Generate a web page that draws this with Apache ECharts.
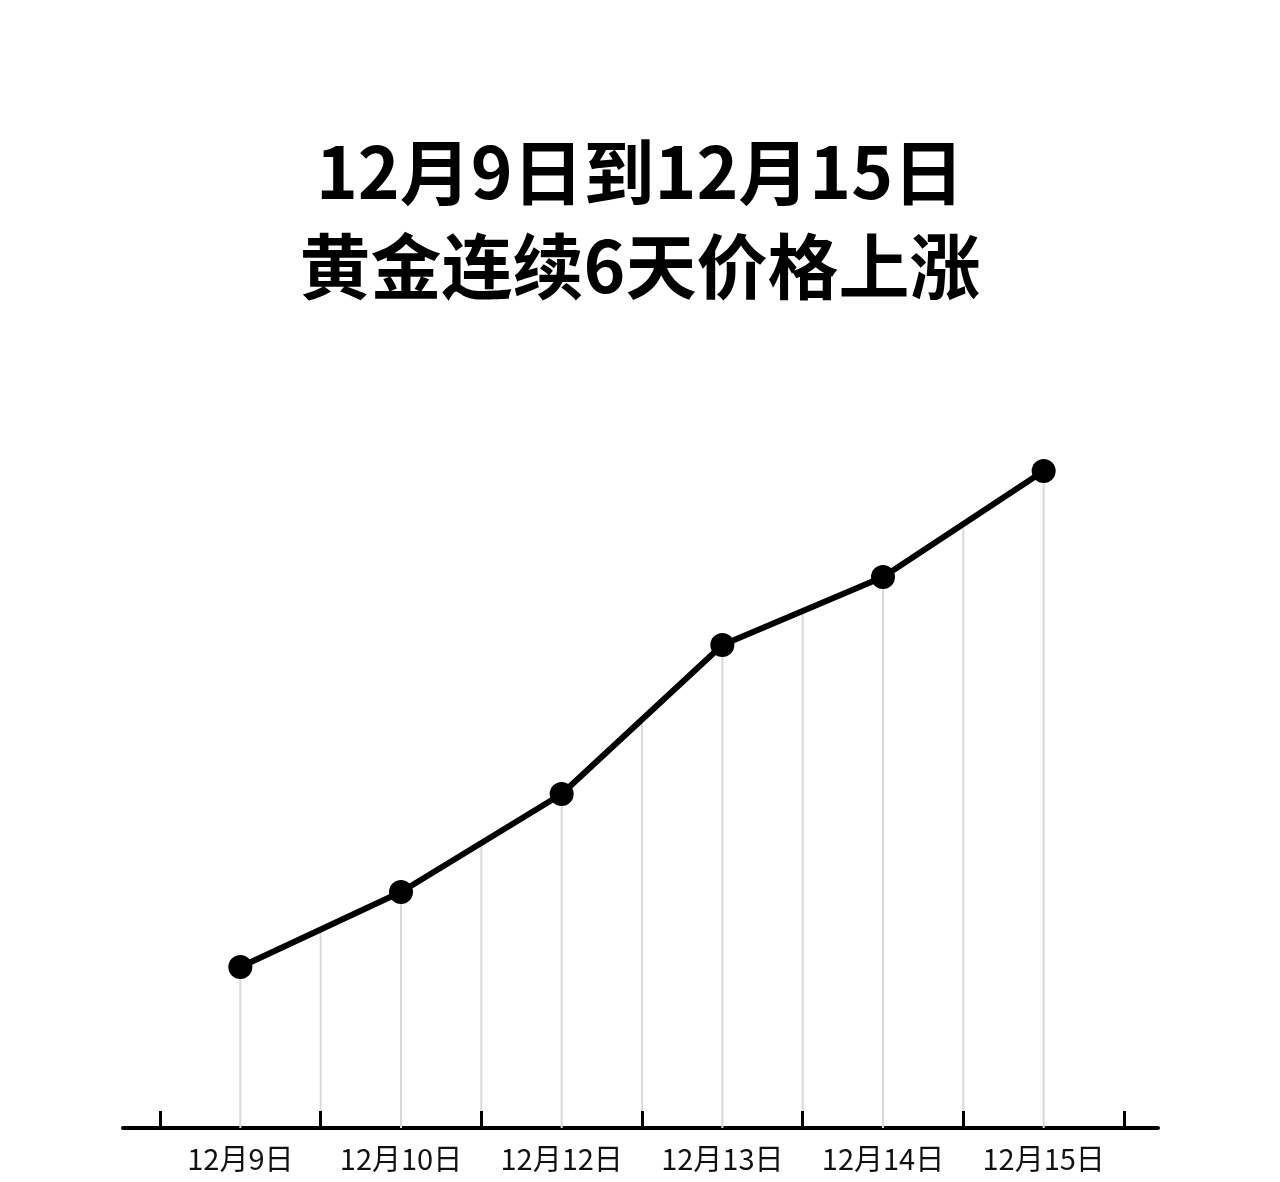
<!DOCTYPE html>
<html>
<head>
<meta charset="utf-8">
<script src="https://cdn.jsdelivr.net/npm/echarts@6/dist/echarts.min.js"></script>
<style>
html,body{margin:0;padding:0;background:#fff;}
#chart{width:1280px;height:1182px;}
</style>
</head>
<body>
<div id="chart"></div>
<script>
const titleLines = ['12月9日到12月15日', '黄金连续6天价格上涨'];
const categories = ['12月9日', '12月10日', '12月12日', '12月13日', '12月14日', '12月15日'];
const prices = [161, 236, 334, 483, 551, 657];

const chart = echarts.init(document.getElementById('chart'));
const font = 'Noto Sans CJK SC';

const titleStyle = {
  fontFamily: font,
  fontSize: 71,
  fontWeight: 'bold',
  color: '#000',
  lineHeight: 72
};

chart.setOption({
  backgroundColor: '#ffffff',
  animation: false,
  title: [
    { text: titleLines[0], left: 'center', top: 136, padding: 0, textStyle: titleStyle },
    { text: titleLines[1], left: 'center', top: 230, padding: 0, textStyle: titleStyle }
  ],
  grid: [
    { left: 160, right: 156, top: 128, bottom: 54 },
    { left: 123, right: 122, top: 128, bottom: 54 }
  ],
  xAxis: [
    {
      type: 'category',
      gridIndex: 0,
      z: 3,
      data: categories,
      boundaryGap: true,
      axisLine: { show: false },
      axisTick: { show: true, interval: 0, inside: true, length: 17, lineStyle: { color: '#000', width: 3 } },
      axisLabel: { interval: 0, color: '#111', fontFamily: font, fontSize: 29, margin: 16 },
      splitLine: { show: false }
    },
    {
      type: 'value',
      gridIndex: 1,
      min: 0,
      max: 1,
      axisLine: { show: true, lineStyle: { color: '#000', width: 4 } },
      axisTick: { show: false },
      axisLabel: { show: false },
      splitLine: { show: false }
    }
  ],
  yAxis: [
    { type: 'value', gridIndex: 0, min: 0, max: 1000, show: false },
    { type: 'value', gridIndex: 1, min: 0, max: 1, show: false }
  ],
  series: [
    {
      type: 'custom',
      xAxisIndex: 0,
      yAxisIndex: 0,
      z: 1,
      silent: true,
      data: prices.map((v, i) => [i, v]),
      renderItem: function (params, api) {
        const i = api.value(0);
        const v = api.value(1);
        const top = api.coord([i, v]);
        const base = api.coord([i, 0]);
        const style = { stroke: '#d9d9d9', lineWidth: 2 };
        const children = [{
          type: 'line',
          shape: { x1: top[0], y1: top[1], x2: base[0], y2: base[1] },
          style: style
        }];
        if (i < prices.length - 1) {
          const nxt = api.coord([i + 1, prices[i + 1]]);
          const mx = (top[0] + nxt[0]) / 2;
          const my = (top[1] + nxt[1]) / 2;
          children.push({
            type: 'line',
            shape: { x1: mx, y1: my, x2: mx, y2: base[1] },
            style: style
          });
        }
        return { type: 'group', children: children };
      }
    },
    {
      type: 'line',
      xAxisIndex: 0,
      yAxisIndex: 0,
      z: 5,
      data: prices,
      symbol: 'circle',
      symbolSize: 24,
      lineStyle: { color: '#000', width: 6 },
      itemStyle: { color: '#000' }
    }
  ]
});
</script>
</body>
</html>
